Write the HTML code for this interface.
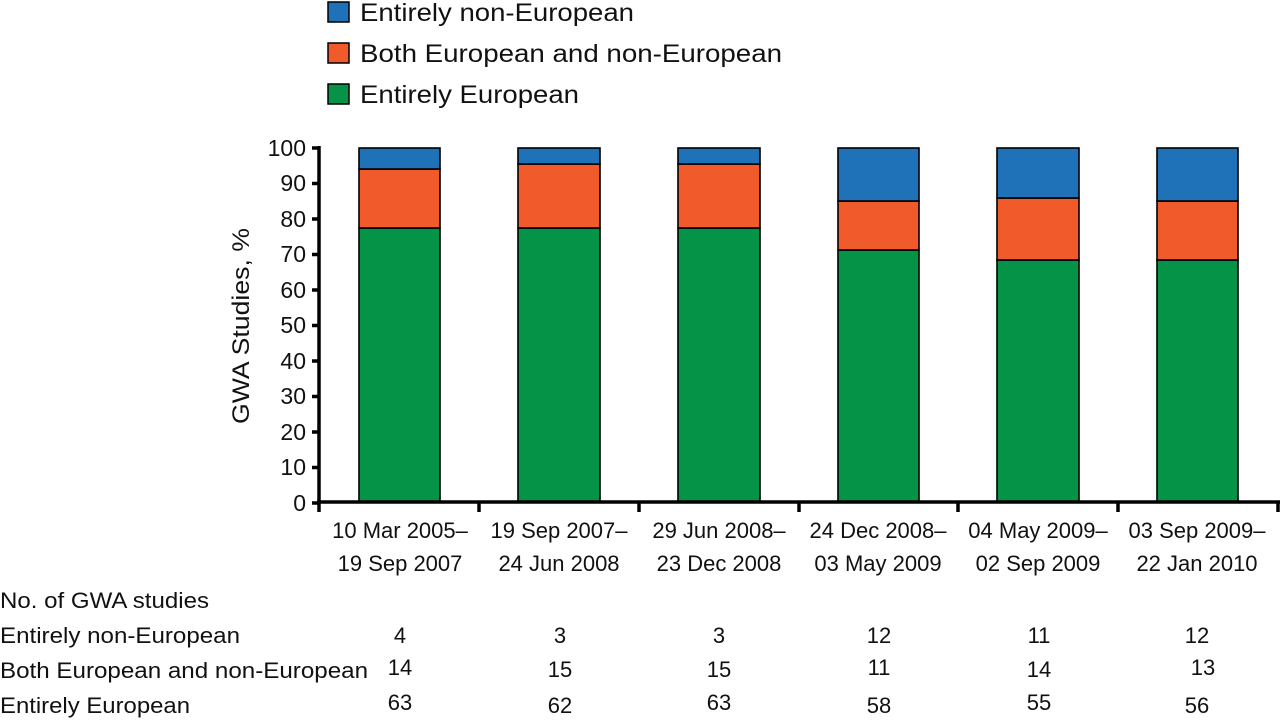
<!DOCTYPE html>
<html><head><style>body{margin:0;background:#fff}</style></head><body>
<svg width="1280" height="720" xmlns="http://www.w3.org/2000/svg" font-family="Liberation Sans, sans-serif" fill="#111">
<rect x="328" y="2" width="21" height="20" fill="#1f72b8" stroke="#000" stroke-width="1.5"/>
<rect x="328" y="43" width="21" height="20" fill="#f15a2b" stroke="#000" stroke-width="1.5"/>
<rect x="328" y="84" width="21" height="20" fill="#059447" stroke="#000" stroke-width="1.5"/>
<g font-size="25" lengthAdjust="spacingAndGlyphs"><text x="360" y="21" textLength="274" lengthAdjust="spacingAndGlyphs">Entirely non-European</text><text x="360" y="62" textLength="422" lengthAdjust="spacingAndGlyphs">Both European and non-European</text><text x="360" y="103" textLength="219" lengthAdjust="spacingAndGlyphs">Entirely European</text></g>
<text transform="translate(249,326) rotate(-90)" text-anchor="middle" font-size="24" textLength="196" lengthAdjust="spacingAndGlyphs">GWA Studies, %</text>
<g stroke="#000" stroke-width="1.6">
<rect x="359" y="228" width="81" height="274" fill="#059447"/><rect x="359" y="169" width="81" height="59" fill="#f15a2b"/><rect x="359" y="148" width="81" height="21" fill="#1f72b8"/>
<rect x="518" y="228" width="82" height="274" fill="#059447"/><rect x="518" y="164" width="82" height="64" fill="#f15a2b"/><rect x="518" y="148" width="82" height="16" fill="#1f72b8"/>
<rect x="678" y="228" width="82" height="274" fill="#059447"/><rect x="678" y="164" width="82" height="64" fill="#f15a2b"/><rect x="678" y="148" width="82" height="16" fill="#1f72b8"/>
<rect x="838" y="250" width="81" height="252" fill="#059447"/><rect x="838" y="201" width="81" height="49" fill="#f15a2b"/><rect x="838" y="148" width="81" height="53" fill="#1f72b8"/>
<rect x="997" y="260" width="82" height="242" fill="#059447"/><rect x="997" y="198" width="82" height="62" fill="#f15a2b"/><rect x="997" y="148" width="82" height="50" fill="#1f72b8"/>
<rect x="1157" y="260" width="81" height="242" fill="#059447"/><rect x="1157" y="201" width="81" height="59" fill="#f15a2b"/><rect x="1157" y="148" width="81" height="53" fill="#1f72b8"/>
</g>
<g stroke="#000" stroke-width="3.5" fill="none">
<line x1="319" y1="146" x2="319" y2="512"/>
<line x1="317" y1="502" x2="1280" y2="502"/>
<path d="M312 148H319M312 183.5H319M312 219H319M312 254.5H319M312 290H319M312 325.5H319M312 361H319M312 396.5H319M312 432H319M312 467.5H319M312 503H319"/>
<path d="M479 502V512M639 502V512M799 502V512M958 502V512M1118 502V512M1278 502V512"/>
</g>
<g font-size="23" text-anchor="end">
<text x="306" y="156">100</text><text x="306" y="191">90</text><text x="306" y="227">80</text><text x="306" y="262">70</text><text x="306" y="298">60</text><text x="306" y="333">50</text><text x="306" y="369">40</text><text x="306" y="404">30</text><text x="306" y="440">20</text><text x="306" y="475">10</text><text x="306" y="511">0</text>
</g>
<g font-size="22" text-anchor="middle">
<text x="400" y="538">10 Mar 2005–</text><text x="400" y="571">19 Sep 2007</text>
<text x="559" y="538">19 Sep 2007–</text><text x="559" y="571">24 Jun 2008</text>
<text x="719" y="538">29 Jun 2008–</text><text x="719" y="571">23 Dec 2008</text>
<text x="878" y="538">24 Dec 2008–</text><text x="878" y="571">03 May 2009</text>
<text x="1038" y="538">04 May 2009–</text><text x="1038" y="571">02 Sep 2009</text>
<text x="1197" y="538">03 Sep 2009–</text><text x="1197" y="571">22 Jan 2010</text>
</g>
<g font-size="22">
<text x="0" y="608" textLength="209" lengthAdjust="spacingAndGlyphs">No. of GWA studies</text>
<text x="0" y="643" textLength="240" lengthAdjust="spacingAndGlyphs">Entirely non-European</text>
<text x="0" y="678" textLength="368" lengthAdjust="spacingAndGlyphs">Both European and non-European</text>
<text x="0" y="713" textLength="190" lengthAdjust="spacingAndGlyphs">Entirely European</text>
</g>
<g font-size="22" text-anchor="middle">
<text x="400" y="643">4</text><text x="560" y="643">3</text><text x="719" y="643">3</text><text x="879" y="643">12</text><text x="1039" y="643">11</text><text x="1197" y="643">12</text>
<text x="400" y="675">14</text><text x="560" y="677">15</text><text x="719" y="677">15</text><text x="879" y="675">11</text><text x="1039" y="677">14</text><text x="1203" y="675">13</text>
<text x="400" y="710">63</text><text x="560" y="713">62</text><text x="719" y="710">63</text><text x="879" y="713">58</text><text x="1039" y="710">55</text><text x="1197" y="713">56</text>
</g>
</svg>
</body></html>
